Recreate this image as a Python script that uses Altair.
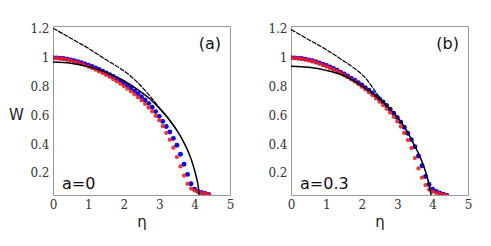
import altair as alt
import pandas as pd

ETA = [0.0, 0.1, 0.2, 0.3, 0.4, 0.5, 0.6, 0.7, 0.8, 0.9, 1.0, 1.1, 1.2, 1.3, 1.4,
       1.5, 1.6, 1.7, 1.8, 1.9, 2.0, 2.1, 2.2, 2.3, 2.4, 2.5, 2.6, 2.7, 2.8, 2.9,
       3.0, 3.1, 3.2, 3.3, 3.4, 3.5, 3.6, 3.7, 3.8, 3.9, 4.0, 4.1, 4.2, 4.3, 4.4]

BLUE_A = [1.000, 0.999, 0.997, 0.994, 0.990, 0.985, 0.979, 0.972, 0.965, 0.957,
          0.948, 0.939, 0.929, 0.918, 0.907, 0.895, 0.882, 0.869, 0.855, 0.840,
          0.824, 0.807, 0.789, 0.770, 0.750, 0.729, 0.707, 0.683, 0.656, 0.626,
          0.593, 0.558, 0.522, 0.484, 0.440, 0.392, 0.330, 0.260, 0.190, 0.125,
          0.088, 0.072, 0.064, 0.057, 0.051]
RED_A = [0.998, 0.997, 0.995, 0.991, 0.986, 0.980, 0.973, 0.965, 0.957, 0.948,
         0.938, 0.928, 0.917, 0.905, 0.893, 0.880, 0.866, 0.851, 0.836, 0.820,
         0.803, 0.785, 0.766, 0.746, 0.725, 0.703, 0.679, 0.654, 0.627, 0.597,
         0.565, 0.525, 0.479, 0.431, 0.375, 0.310, 0.245, 0.182, 0.125, 0.092,
         0.078, 0.069, 0.062, 0.056, 0.050]
BLUE_B = [1.000, 0.999, 0.997, 0.994, 0.990, 0.985, 0.979, 0.972, 0.964, 0.955,
          0.946, 0.936, 0.925, 0.913, 0.900, 0.887, 0.873, 0.858, 0.843, 0.827,
          0.810, 0.792, 0.774, 0.755, 0.735, 0.714, 0.692, 0.668, 0.642, 0.614,
          0.585, 0.553, 0.517, 0.476, 0.431, 0.382, 0.318, 0.250, 0.175, 0.120,
          0.088, 0.071, 0.061, 0.053, 0.046]
RED_B = [0.998, 0.997, 0.995, 0.991, 0.987, 0.981, 0.974, 0.967, 0.958, 0.949,
         0.939, 0.929, 0.918, 0.906, 0.893, 0.879, 0.865, 0.850, 0.834, 0.817,
         0.799, 0.780, 0.760, 0.739, 0.717, 0.694, 0.670, 0.645, 0.618, 0.590,
         0.558, 0.522, 0.478, 0.428, 0.373, 0.303, 0.231, 0.168, 0.116, 0.085,
         0.070, 0.062, 0.056, 0.050, 0.045]

SOLID_A_ETA = [0.0, 0.5, 1.0, 1.5, 2.0, 2.5, 2.75, 3.0, 3.25, 3.5, 3.7, 3.85, 3.95, 4.05, 4.1, 4.13]
SOLID_A_W = [0.970, 0.962, 0.938, 0.898, 0.840, 0.760, 0.712, 0.650, 0.580, 0.495, 0.410, 0.330, 0.260, 0.170, 0.110, 0.040]
DASH_A_ETA = [0.0, 0.5, 1.0, 1.5, 1.875, 2.25, 2.5, 2.75, 3.0, 3.25, 3.5]
DASH_A_W = [1.205, 1.135, 1.065, 0.985, 0.930, 0.860, 0.800, 0.730, 0.655, 0.582, 0.497]

SOLID_B_ETA = [0.0, 0.5, 1.0, 1.5, 2.0, 2.25, 2.5, 2.75, 3.0, 3.25, 3.5, 3.65, 3.8, 3.9, 3.96]
SOLID_B_W = [0.940, 0.933, 0.912, 0.875, 0.805, 0.762, 0.712, 0.655, 0.590, 0.500, 0.385, 0.310, 0.210, 0.120, 0.040]
DASH_B_ETA = [0.0, 0.5, 1.0, 1.5, 1.85, 2.1, 2.3, 2.5, 2.75, 3.0]
DASH_B_W = [1.195, 1.125, 1.055, 0.975, 0.915, 0.860, 0.795, 0.725, 0.657, 0.590]

X_TICKS = [0, 1, 2, 3, 4, 5]
Y_TICKS = [0.2, 0.4, 0.6, 0.8, 1.0, 1.2]

W_PANEL = 177
H_PANEL = 169
Y_DOMAIN = [0.047, 1.22]


def panel(blue, red, s_eta, s_w, d_eta, d_w, tag, alabel, ytitle):
    xs = alt.Scale(domain=[0, 5], nice=False, zero=False)
    ys = alt.Scale(domain=Y_DOMAIN, nice=False, zero=False)
    xax = alt.Axis(values=X_TICKS, format="d", title="η", labelOverlap=False,
                   titleFont="DejaVu Sans", titleFontSize=15, titleFontWeight="normal",
                   titlePadding=4, titleColor="#222")
    yax_kw = dict(values=Y_TICKS, format="~g", labelOverlap=False)
    if ytitle:
        yax = alt.Axis(title="W", titleAngle=0, titleFont="DejaVu Sans", titleFontSize=15,
                       titleFontWeight="normal", titleColor="#222", titleX=-37, titleY=88,
                       titleAlign="center", titleBaseline="middle", **yax_kw)
    else:
        yax = alt.Axis(title=None, **yax_kw)

    dots_b = pd.DataFrame({"eta": ETA, "W": blue})
    dots_r = pd.DataFrame({"eta": ETA, "W": red})
    solid = pd.DataFrame({"eta": s_eta, "W": s_w})
    dash = pd.DataFrame({"eta": d_eta, "W": d_w})

    pb = alt.Chart(dots_b).mark_circle(color="#0000ff", size=24, opacity=1, clip=True)
    pr = alt.Chart(dots_r).mark_circle(color="#ff1a1a", size=18, opacity=0.9, clip=True)
    ls = alt.Chart(solid).mark_line(color="black", strokeWidth=1.5, interpolate="monotone",
                                    clip=True)
    ld = alt.Chart(dash).mark_line(color="black", strokeWidth=1.2, strokeDash=[5, 1],
                                   interpolate="monotone", clip=True)
    t1 = alt.Chart(pd.DataFrame({"t": [tag]})).mark_text(
        font="DejaVu Sans", fontSize=16, align="right", baseline="alphabetic", color="#111").encode(
        text="t:N", x=alt.value(168), y=alt.value(23))
    t2 = alt.Chart(pd.DataFrame({"t": [alabel]})).mark_text(
        font="DejaVu Sans", fontSize=16, align="left", baseline="alphabetic", color="#111").encode(
        text="t:N", x=alt.value(9), y=alt.value(163))
    return alt.layer(pb, pr, ls, ld, t1, t2).encode(
        x=alt.X("eta:Q", scale=xs, axis=xax), y=alt.Y("W:Q", scale=ys, axis=yax)
    ).properties(width=W_PANEL, height=H_PANEL)


pa = panel(BLUE_A, RED_A, SOLID_A_ETA, SOLID_A_W, DASH_A_ETA, DASH_A_W, "(a)", "a=0", True)
pb_ = panel(BLUE_B, RED_B, SOLID_B_ETA, SOLID_B_W, DASH_B_ETA, DASH_B_W, "(b)", "a=0.3", False)

chart = alt.hconcat(pa, pb_, spacing=32).properties(
    padding={"left": 0, "top": 14, "right": 0, "bottom": 0},
    background="white"
).configure_view(stroke="#999", strokeWidth=1).configure_axis(
    ticks=False, domain=False, grid=False, labelFont="DejaVu Serif", labelFontSize=12,
    labelColor="#333", labelPadding=4, labelOverlap=False, labelFlush=False
)

chart.save("out.html", embed_options={"renderer": "svg", "actions": False})
